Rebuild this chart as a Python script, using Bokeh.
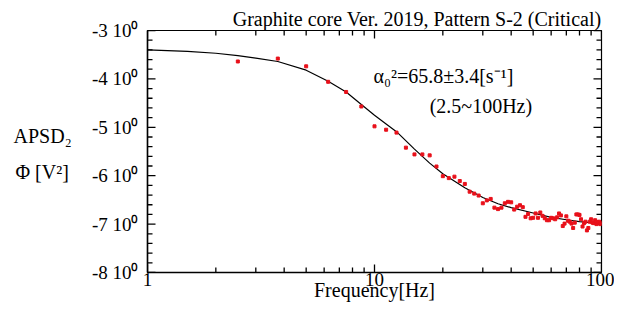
import math
from bokeh.plotting import figure
from bokeh.layouts import row
from bokeh.models import Range1d, FixedTicker, Label, Title
from bokeh.embed import file_html
from bokeh.resources import INLINE

# measured spectrum (frequency in Hz, APSD value)
freq = [2.5, 3.75, 5.0, 6.25, 7.5, 8.75, 10.0, 11.25, 12.5, 13.75,
        15.0, 16.25, 17.5, 18.75, 20.0, 21.25, 22.5, 23.75, 25.0, 26.25,
        27.5, 28.75, 30.0, 31.25, 32.5, 33.75, 35.0, 36.25, 37.5, 38.75,
        40.0, 41.25, 42.5, 43.75, 45.0, 46.25, 47.5, 48.75, 50.0, 51.25,
        52.5, 53.75, 55.0, 56.25, 57.5, 58.75, 60.0, 61.25, 62.5, 63.75,
        65.0, 66.25, 67.5, 68.75, 70.0, 71.25, 72.5, 73.75, 75.0, 76.25,
        77.5, 78.75, 80.0, 81.25, 82.5, 83.75, 85.0, 86.25, 87.5, 88.75,
        90.0, 91.25, 92.5, 93.75, 95.0, 96.25, 97.5, 98.75, 100.0]
apsd = [-3.64, -3.58, -3.74, -4.06, -4.27, -4.57, -4.98, -5.05, -5.11, -5.42,
        -5.56, -5.56, -5.58, -5.81, -6.01, -6.05, -6.02, -6.11, -6.17, -6.33,
        -6.37, -6.41, -6.57, -6.51, -6.48, -6.66, -6.69, -6.66, -6.57, -6.54,
        -6.55, -6.70, -6.64, -6.61, -6.65, -6.85, -6.79, -6.88, -6.87, -6.78,
        -6.87, -6.76, -6.83, -6.88, -6.92, -6.92, -6.87, -6.88, -6.90, -6.86,
        -6.78, -6.82, -7.04, -6.99, -6.84, -6.93, -6.95, -6.99, -7.08, -6.97,
        -6.80, -6.80, -6.81, -6.90, -7.05, -6.98, -6.95, -7.13, -7.08, -6.95,
        -6.90, -6.97, -6.98, -6.92, -7.00, -6.96, -6.95, -7.00, -6.97]

# fitted curve
fit_freq = [1.0, 1.5, 2.0, 2.5, 3.0, 3.75, 5.0, 6.25, 7.5, 8.75, 10.0, 11.25,
            12.5, 15.0, 17.5, 20.0, 25.0, 30.0, 35.0, 40.0, 50.0, 60.0, 70.0,
            80.0, 100.0]
fit_val = [-3.40, -3.43, -3.47, -3.52, -3.57, -3.64, -3.82, -4.05, -4.27, -4.53,
           -4.75, -4.93, -5.09, -5.45, -5.74, -5.96, -6.25, -6.45, -6.58, -6.66,
           -6.77, -6.86, -6.91, -6.95, -6.99]

X0, X1 = 1, 100
Y0, Y1 = -8, -3
y_ticks = [-8, -7, -6, -5, -4, -3]
y_tick_labels = ["-8 10\u2070", "-7 10\u2070", "-6 10\u2070", "-5 10\u2070", "-4 10\u2070", "-3 10\u2070"]
x_ticks = [1, 10, 100]
x_tick_labels = ["1", "10", "100"]
x_minor = [2, 3, 4, 5, 6, 7, 8, 9, 20, 30, 40, 50, 60, 70, 80, 90]
y_minor = [-7.8, -7.6, -7.4, -7.2, -6.8, -6.6, -6.4, -6.2, -5.8, -5.6, -5.4, -5.2,
           -4.8, -4.6, -4.4, -4.2, -3.8, -3.6, -3.4, -3.2]

FONT = "Liberation Serif"
FS = "20px"
LEFT_W = 80

# ---- narrow panel holding the horizontal y-axis title ----
pl = figure(width=LEFT_W, height=309, x_range=Range1d(0, LEFT_W), y_range=Range1d(309, 0),
            x_axis_location=None, y_axis_location=None,
            output_backend="svg", toolbar_location=None, min_border=0)
pl.grid.visible = False
pl.outline_line_color = None
pl.background_fill_color = "white"
pl.border_fill_color = "white"
for x, y, t in ((13, 135, "APSD\u2082"), (15, 181, "\u03a6  [V\u00b2]")):
    pl.add_layout(Label(x=x, y=y, text=t, text_font=FONT, text_font_size=FS,
                        text_align="left", text_baseline="middle", text_color="black"))

# ---- main chart ----
p = figure(width=614 - LEFT_W, height=309, x_axis_type="log",
           x_range=Range1d(X0, X1), y_range=Range1d(Y0, Y1),
           output_backend="svg", toolbar_location=None,
           min_border_left=147 - LEFT_W, min_border_right=13,
           min_border_top=30, min_border_bottom=37)
p.grid.visible = False
p.outline_line_color = "black"
p.outline_line_width = 1.2
p.background_fill_color = "white"
p.border_fill_color = "white"

xa = p.xaxis[0]
xa.ticker = FixedTicker(ticks=x_ticks)
xa.major_label_overrides = {t: s for t, s in zip(x_ticks, x_tick_labels)}
ya = p.yaxis[0]
ya.ticker = FixedTicker(ticks=y_ticks)
ya.major_label_overrides = {t: s for t, s in zip(y_ticks, y_tick_labels)}

for ax in (xa, ya):
    ax.major_tick_in = 0
    ax.major_tick_out = 0
    ax.minor_tick_in = 0
    ax.minor_tick_out = 0
    ax.axis_line_color = "black"
    ax.axis_line_width = 1.5
    ax.major_label_text_font = FONT
    ax.major_label_text_font_size = "19px"
    ax.major_label_text_color = "black"
xa.major_label_standoff = 0
ya.major_label_standoff = 9

xa.axis_label = "Frequency[Hz]"
xa.axis_label_text_font = FONT
xa.axis_label_text_font_size = FS
xa.axis_label_text_font_style = "normal"
xa.axis_label_text_color = "black"
xa.axis_label_standoff = -10

p.add_layout(Title(text="Graphite core Ver. 2019, Pattern S-2 (Critical)", align="right",
                   text_font=FONT, text_font_size=FS, text_font_style="normal",
                   text_color="black", standoff=1, offset=0), "above")

# inward tick marks on all four sides (dash markers centred on the frame edge,
# the half outside the frame is clipped away)
TICK_COLOR = "black"
for xs, size in ((x_ticks, 16), (x_minor, 10)):
    for edge in (Y0, Y1):
        p.scatter(xs, [edge] * len(xs), marker="dash", angle=math.pi / 2, size=size,
                  line_color=TICK_COLOR, line_width=1.3)
for ys, size in ((y_ticks, 16), (y_minor, 10)):
    for edge in (X0, X1):
        p.scatter([edge] * len(ys), ys, marker="dash", size=size,
                  line_color=TICK_COLOR, line_width=1.3)

p.line(fit_freq, fit_val, line_color="black", line_width=1.2)
p.scatter(freq, apsd, marker="square", size=3, color="#e8101a")

for x, y, t in ((9.9, -3.93, "\u03b1\u2080\u00b2=65.8\u00b13.4[s\u207b\u00b9]"),
                (17.5, -4.57, "(2.5~100Hz)")):
    p.add_layout(Label(x=x, y=y, text=t, text_font=FONT, text_font_size=FS,
                       text_align="left", text_baseline="middle", text_color="black"))

layout = row(pl, p, spacing=0)
open("out.html", "w").write(file_html(layout, INLINE))
